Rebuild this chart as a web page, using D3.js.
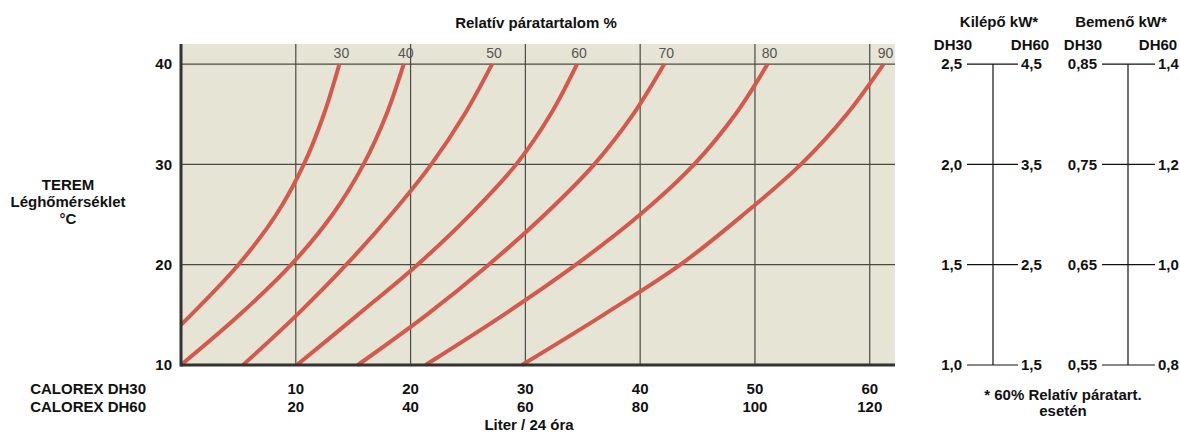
<!DOCTYPE html>
<html><head><meta charset="utf-8">
<script src="https://cdn.jsdelivr.net/npm/d3@7"></script>
<style>
body{margin:0;background:#fff;}
text{font-family:"Liberation Sans Narrow","Arial Narrow","Liberation Sans",Arial,sans-serif;font-weight:bold;fill:#111;font-size:15px;}
</style></head>
<body><svg id="c" width="1180" height="432"></svg>
<script>
// ---- data ----
const dh30Ticks = [10, 20, 30, 40, 50, 60];
const dh60Ticks = [20, 40, 60, 80, 100, 120];
const tempTicks = [10, 20, 30, 40];
const rhLabels = [30, 40, 50, 60, 70, 80, 90];
// curves: [liters/24h (DH30), temperature °C]
const rh30 = [[0,14.0],[5.0,20],[8.3,25],[10.7,30],[12.45,35],[13.8,40]];
const rh40 = [[0,10],[5.1,15],[9.6,20],[13.2,25],[15.9,30],[17.9,35],[19.4,40]];
const rh50 = [[5.4,10],[10.1,15],[14.4,20],[18.3,25],[21.8,30],[24.7,35],[27.1,40]];
const rh60 = [[10.1,10],[15.4,15],[20.6,20],[25.2,25],[29.2,30],[32.2,35],[34.5,40]];
const rh70 = [[15.4,10],[21.4,15],[26.8,20],[31.7,25],[36.0,30],[39.4,35],[42.1,40]];
const rh80 = [[21.3,10],[28.1,15],[34.4,20],[40.0,25],[44.7,30],[48.3,35],[51.1,40]];
const rh90 = [[29.7,10],[36.8,15],[43.5,20],[49.0,25],[54.0,30],[58.0,35],[61.2,40]];
const curves = [rh30, rh40, rh50, rh60, rh70, rh80, rh90];
// right-hand scales
const kilepoDH30 = ["1,0","1,5","2,0","2,5"];
const kilepoDH60 = ["1,5","2,5","3,5","4,5"];
const bemenoDH30 = ["0,55","0,65","0,75","0,85"];
const bemenoDH60 = ["0,8","1,0","1,2","1,4"];

// ---- drawing ----
const svg = d3.select("#c");
const x = d3.scaleLinear().domain([0, 62.2]).range([181, 895]);
const y = d3.scaleLinear().domain([10, 42]).range([365, 44]);

svg.append("rect").attr("x", x(0)).attr("y", y(42))
  .attr("width", x(62.2) - x(0)).attr("height", y(10) - y(42)).attr("fill", "#e6e4d5");

// grid
svg.append("g").selectAll("line").data(dh30Ticks).join("line")
  .attr("x1", d => x(d)).attr("x2", d => x(d)).attr("y1", y(42)).attr("y2", y(10))
  .attr("stroke", "#4a4a44").attr("stroke-width", 1.2);
svg.append("g").selectAll("line").data(tempTicks.filter(t => t > 10)).join("line")
  .attr("x1", x(0)).attr("x2", x(62.2)).attr("y1", d => y(d)).attr("y2", d => y(d))
  .attr("stroke", "#4a4a44").attr("stroke-width", 1.2);

// curves
const line = d3.line().x(d => x(d[0])).y(d => y(d[1])).curve(d3.curveCatmullRom.alpha(0.5));
svg.append("g").selectAll("path").data(curves).join("path")
  .attr("d", line).attr("fill", "none").attr("stroke", "#d4584c").attr("stroke-width", 4)
  .attr("stroke-linecap", "butt");

// axes lines
svg.append("line").attr("x1", x(0)).attr("x2", x(0)).attr("y1", y(42)).attr("y2", y(10) + 1.5)
  .attr("stroke", "#333", ).attr("stroke-width", 3);
svg.append("line").attr("x1", x(0)).attr("x2", x(62.2)).attr("y1", y(10)).attr("y2", y(10))
  .attr("stroke", "#333").attr("stroke-width", 3);

// RH labels
svg.append("g").selectAll("text").data(rhLabels).join("text")
  .attr("x", (d, i) => x(curves[i][curves[i].length - 1][0]) + 2).attr("y", y(40) - 6)
  .attr("text-anchor", "middle")
  .style("font-family", "'Liberation Sans',Arial,sans-serif").style("font-weight", "normal")
  .style("fill", "#555").style("font-size", "14px").text(d => d);

// y tick labels
svg.append("g").selectAll("text").data(tempTicks).join("text")
  .attr("x", 172).attr("y", d => y(d)).attr("dy", "0.36em").attr("text-anchor", "end")
  .text(d => d);

// x tick labels
svg.append("g").selectAll("text").data(dh30Ticks).join("text")
  .attr("x", d => x(d)).attr("y", 389).attr("dy", "0.36em").attr("text-anchor", "middle")
  .text(d => d);
svg.append("g").selectAll("text").data(dh60Ticks).join("text")
  .attr("x", (d, i) => x(dh30Ticks[i])).attr("y", 407).attr("dy", "0.36em").attr("text-anchor", "middle")
  .text(d => d);
svg.append("text").attr("x", 146).attr("y", 389).attr("dy", "0.36em").attr("text-anchor", "end")
  .text("CALOREX DH30");
svg.append("text").attr("x", 146).attr("y", 407).attr("dy", "0.36em").attr("text-anchor", "end")
  .text("CALOREX DH60");
svg.append("text").attr("x", 529).attr("y", 425).attr("dy", "0.36em").attr("text-anchor", "middle")
  .text("Liter / 24 óra");

// titles
svg.append("text").attr("x", 536).attr("y", 23).attr("dy", "0.36em").attr("text-anchor", "middle")
  .text("Relatív páratartalom %");
const ytitle = ["TEREM", "Léghőmérséklet", "°C"];
svg.append("g").selectAll("text").data(ytitle).join("text")
  .attr("x", 68).attr("y", (d, i) => 185 + i * 17).attr("dy", "0.36em").attr("text-anchor", "middle")
  .text(d => d);

// right scales
function scalePanel(cx, x1, x2, lx, rx, title, tx, h1x, h2x, left, right) {
  const g = svg.append("g");
  g.append("line").attr("x1", cx).attr("x2", cx).attr("y1", y(40)).attr("y2", y(10))
    .attr("stroke", "#111").attr("stroke-width", 1.2);
  g.selectAll("line.t").data(tempTicks).join("line").attr("class", "t")
    .attr("x1", x1).attr("x2", x2).attr("y1", d => y(d)).attr("y2", d => y(d))
    .attr("stroke", "#111").attr("stroke-width", 1.2);
  g.selectAll("text.l").data(left).join("text").attr("class", "l")
    .attr("x", lx).attr("y", (d, i) => y(tempTicks[i])).attr("dy", "0.36em").attr("text-anchor", "end")
    .text(d => d);
  g.selectAll("text.r").data(right).join("text").attr("class", "r")
    .attr("x", rx).attr("y", (d, i) => y(tempTicks[i])).attr("dy", "0.36em").attr("text-anchor", "start")
    .text(d => d);
  g.append("text").attr("x", tx).attr("y", 22).attr("dy", "0.36em").attr("text-anchor", "middle")
    .text(title);
  g.append("text").attr("x", h1x).attr("y", 45).attr("dy", "0.36em").attr("text-anchor", "middle")
    .text("DH30");
  g.append("text").attr("x", h2x).attr("y", 45).attr("dy", "0.36em").attr("text-anchor", "middle")
    .text("DH60");
}
scalePanel(993, 967, 1018, 962, 1021, "Kilépő kW*", 999, 953, 1030, kilepoDH30, kilepoDH60);
scalePanel(1128, 1102, 1155, 1097, 1158, "Bemenő kW*", 1121, 1083, 1158, bemenoDH30, bemenoDH60);

svg.append("text").attr("x", 1063).attr("y", 395).attr("dy", "0.36em").attr("text-anchor", "middle")
  .text("* 60% Relatív páratart.");
svg.append("text").attr("x", 1063).attr("y", 411).attr("dy", "0.36em").attr("text-anchor", "middle")
  .text("esetén");
</script></body></html>
